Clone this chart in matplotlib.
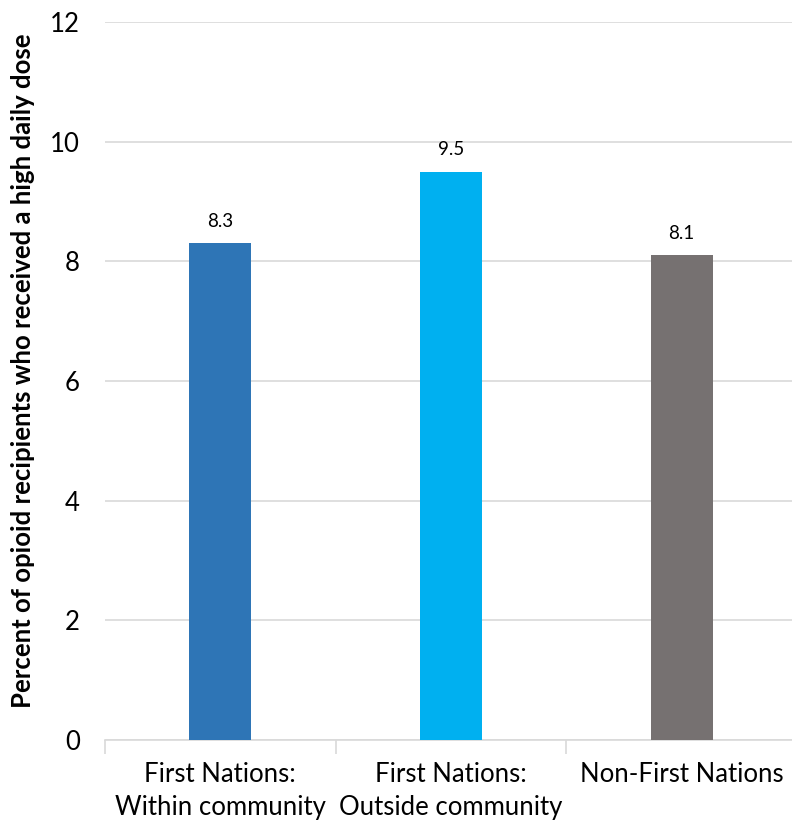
import matplotlib
matplotlib.use('Agg')
import matplotlib.pyplot as plt

plt.rcParams['font.family'] = ['Lato', 'DejaVu Sans']

# Data
categories = ['First Nations:\nWithin community', 'First Nations:\nOutside community', 'Non-First Nations']
values = [8.3, 9.5, 8.1]
colors = ['#2E75B6', '#00B0F0', '#767171']
y_ticks = [0, 2, 4, 6, 8, 10, 12]

fig = plt.figure(figsize=(7.92, 8.22), dpi=100)
ax = fig.add_axes([0.1326, 0.0998, 0.8737, 0.8734])

x = list(range(len(categories)))
bars = ax.bar(x, values, width=0.27, color=colors, zorder=3)

for xi, v in zip(x, values):
    ax.text(xi, v + 0.22, f'{v:.1f}', ha='center', va='bottom', fontsize=13.5, color='#000000')

ax.set_xlim(-0.5, 2.5)
ax.set_ylim(0, 12)
ax.set_yticks(y_ticks)
ax.set_yticklabels([str(t) for t in y_ticks], fontsize=18.5)
ax.grid(axis='y', color='#D9D9D9', linewidth=1.2, zorder=0)

# category boundaries as tick marks
ax.set_xticks([-0.5, 0.5, 1.5, 2.5])
ax.set_xticklabels([])
ax.tick_params(axis='x', length=10, color='#D9D9D9', width=1.2)
ax.set_xticks(x, minor=True)
ax.set_xticklabels(categories, minor=True, fontsize=18.5, linespacing=1.4)
ax.tick_params(axis='x', which='minor', length=0, pad=16)
ax.tick_params(axis='y', length=0, pad=18)

for s in ['top', 'right', 'left']:
    ax.spines[s].set_visible(False)
ax.spines['bottom'].set_color('#D9D9D9')
ax.spines['bottom'].set_linewidth(1.2)

ax.set_ylabel('Percent of opioid recipients who received a high daily dose',
              fontsize=18.5, fontweight='bold')
ax.yaxis.set_label_coords(-0.101, 0.514)

fig.savefig('out.png', dpi=100)
